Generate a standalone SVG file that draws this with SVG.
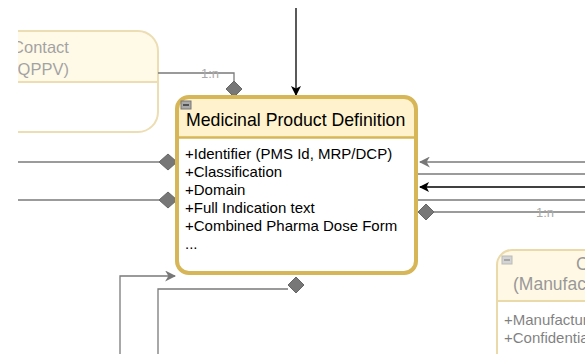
<svg xmlns="http://www.w3.org/2000/svg" width="585" height="354" viewBox="0 0 585 354">
<style>
text{font-family:"Liberation Sans",Arial,sans-serif}
.ln{fill:none;stroke:#7a7a7a;stroke-width:1.3}
.blk{fill:none;stroke:#000;stroke-width:1.3}
.dia{fill:#777;stroke:#666;stroke-width:1}
.lbl{font-size:13px;fill:#aaa}
.attr{font-size:15px;fill:#000}
.icon{fill:#aaa;stroke:#777;stroke-width:1}
</style>
<defs>
<marker id="ab" viewBox="0 0 10 10" refX="9" refY="5" markerWidth="10" markerHeight="10" markerUnits="userSpaceOnUse" orient="auto"><path d="M0,0 L10,5 L0,10 L2.5,5 Z" fill="#000"/></marker>
<marker id="ag" viewBox="0 0 10 10" refX="9" refY="5" markerWidth="11" markerHeight="11" markerUnits="userSpaceOnUse" orient="auto"><path d="M0,0 L10,5 L0,10 L3,5 Z" fill="#777"/></marker>
<clipPath id="cl"><rect x="18" y="0" width="567" height="354"/></clipPath>
</defs>
<rect width="585" height="354" fill="#fff"/>
<g id="contact" clip-path="url(#cl)" opacity="0.45">
<path d="M-80,82 V51 a20,20 0 0 1 20,-20 H138 a20,20 0 0 1 20,20 V82 Z" fill="#fff2cc"/>
<path d="M-80,51 a20,20 0 0 1 20,-20 H138 a20,20 0 0 1 20,20 V112 a20,20 0 0 1 -20,20 H-60 a20,20 0 0 1 -20,-20 Z M-80,82 H158" fill="none" stroke="#d6b656" stroke-width="2"/>
<text x="40.5" y="53" text-anchor="middle" font-size="16.5" fill="#333">Contact</text>
<text x="40.5" y="75" text-anchor="middle" font-size="16.5" fill="#333">(QPPV)</text>
</g>
<g id="manufacturer" opacity="0.5">
<path d="M497,301 V265 a15,15 0 0 1 15,-15 H600 V301 Z" fill="#fff2cc"/>
<path d="M600,250 H512 a15,15 0 0 0 -15,15 V360 M497,301 H600" fill="none" stroke="#d6b656" stroke-width="2"/>
<rect x="502" y="256" width="10" height="8" class="icon"/><line x1="504" y1="260" x2="510" y2="260" stroke="#333" stroke-width="1.5"/>
<text x="576" y="270" font-size="17.5" fill="#333">C</text>
<text x="513" y="290" font-size="17.5" fill="#333">(Manufac</text>
<text x="504" y="325" class="attr" fill="#333">+Manufactur</text>
<text x="504" y="343" class="attr" fill="#333">+Confidentia</text>
</g>
<g id="connectors">
<path d="M296,8 V95" class="blk" marker-end="url(#ab)"/>
<path d="M158,73 H234 V81" class="ln"/>
<text x="210" y="77.5" class="lbl" text-anchor="middle">1:n</text>
<path d="M18,162 H159" class="ln"/>
<path d="M18,200 H159" class="ln"/>
<path d="M120,354 V276 H175" class="ln" marker-end="url(#ag)"/>
<path d="M158,354 V289 H288" class="ln"/>
<path d="M585,162 H420" class="ln" marker-end="url(#ag)"/>
<path d="M418,174 H585" class="ln"/>
<path d="M585,187 H420" class="blk" marker-end="url(#ab)"/>
<path d="M418,200 H585" class="ln"/>
<path d="M434,212 H585" class="ln"/>
<text x="545" y="217" class="lbl" text-anchor="middle">1:n</text>
<path d="M234,81 L242,89 L234,97 L226,89 Z" class="dia"/>
<path d="M168,154 L177,162 L168,170 L159,162 Z" class="dia"/>
<path d="M168,192 L177,200 L168,208 L159,200 Z" class="dia"/>
<path d="M296,277 L304,285 L296,293 L288,285 Z" class="dia"/>
<path d="M426,204 L434,212 L426,220 L418,212 Z" class="dia"/>
</g>
<g id="mpd">
<path d="M177,137 V109 a12,12 0 0 1 12,-12 H404 a12,12 0 0 1 12,12 V137 Z" fill="#fff2cc"/>
<path d="M177,137 H416 V261 a12,12 0 0 1 -12,12 H189 a12,12 0 0 1 -12,-12 Z" fill="#fff"/>
<rect x="177" y="97" width="239" height="176" rx="12" fill="none" stroke="#d6b656" stroke-width="4"/>
<line x1="177" y1="137.5" x2="416" y2="137.5" stroke="#d6b656" stroke-width="2.5"/>
<rect x="181" y="101" width="10" height="8" class="icon"/><line x1="183" y1="105" x2="189" y2="105" stroke="#333" stroke-width="1.5"/>
<text x="186" y="126" font-size="17.7" fill="#000">Medicinal Product Definition</text>
<text x="185" y="159" class="attr">+Identifier (PMS Id, MRP/DCP)</text>
<text x="185" y="177" class="attr">+Classification</text>
<text x="185" y="195" class="attr">+Domain</text>
<text x="185" y="213" class="attr">+Full Indication text</text>
<text x="185" y="231" class="attr">+Combined Pharma Dose Form</text>
<text x="185" y="249" class="attr">...</text>
</g>
</svg>
